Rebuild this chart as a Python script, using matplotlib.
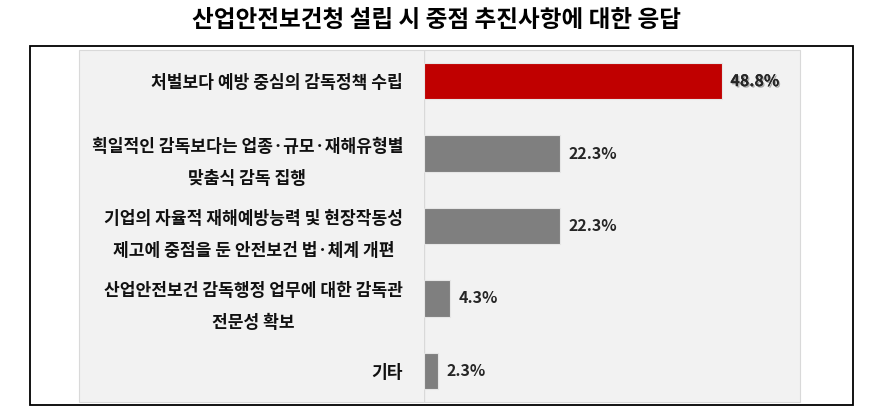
import matplotlib.pyplot as plt
from matplotlib.patches import Rectangle
import matplotlib.patheffects as pe

plt.rcParams['font.family'] = ['Noto Sans CJK KR', 'DejaVu Sans']

# 데이터
title = "산업안전보건청 설립 시 중점 추진사항에 대한 응답"
labels = [
    "처벌보다 예방 중심의 감독정책 수립",
    "획일적인 감독보다는 업종·규모·재해유형별\n맞춤식 감독 집행",
    "기업의 자율적 재해예방능력 및 현장작동성\n제고에 중점을 둔 안전보건 법·체계 개편",
    "산업안전보건 감독행정 업무에 대한 감독관\n전문성 확보",
    "기타",
]
values = [48.8, 22.3, 22.3, 4.3, 2.3]
bar_colors = ["#C00000", "#7F7F7F", "#7F7F7F", "#7F7F7F", "#7F7F7F"]

W, H = 873, 415
fig = plt.figure(figsize=(W / 100, H / 100), dpi=100)

def fx(px):
    return px / W

def fy(py):
    return 1 - py / H

# 바깥 테두리 + 회색 차트 영역
fig.patches.append(Rectangle((fx(79), fy(402)), fx(800) - fx(79), fy(50) - fy(402),
                             transform=fig.transFigure, facecolor="#F2F2F2",
                             edgecolor="#D9D9D9", linewidth=0.8, zorder=-1))
fig.patches.append(Rectangle((fx(30), fy(405)), fx(853) - fx(30), fy(46) - fy(405),
                             transform=fig.transFigure, facecolor="none",
                             edgecolor="black", linewidth=1.3, zorder=5))

fig.text(0.5, fy(20), title, ha="center", va="center",
         fontsize=17, fontweight="bold", color="black")

ax = fig.add_axes([fx(424), fy(402), fx(800) - fx(424), fy(50) - fy(402)])
ax.set_zorder(2)
ax.set_facecolor("none")
ypos = list(range(len(values)))
ax.barh(ypos, values, height=0.5, color=bar_colors, edgecolor="#E6E6E6",
        linewidth=0.8, zorder=3)
ax.set_xlim(0, 61.6)
ax.set_ylim(len(values) - 1 + 0.43, -0.43)
ax.axvline(0, color="#D9D9D9", linewidth=1, zorder=2)

for sp in ax.spines.values():
    sp.set_visible(False)
ax.set_xticks([])
ax.set_yticks(ypos)
ax.set_yticklabels(labels, fontsize=12.3, fontweight="bold", color="#111111",
                   multialignment="center", linespacing=2.0)
ax.tick_params(axis="y", length=0, pad=15)

for i, v in enumerate(values):
    t = ax.text(v + 1.4, i, f"{v}%", va="center", ha="left", fontsize=11.5,
                fontweight="bold", color="#262626")
    if i == 0:
        t.set_path_effects([pe.withSimplePatchShadow(offset=(1, -1), alpha=0.3),
                            pe.Normal()])

fig.savefig("out.png", dpi=100)
